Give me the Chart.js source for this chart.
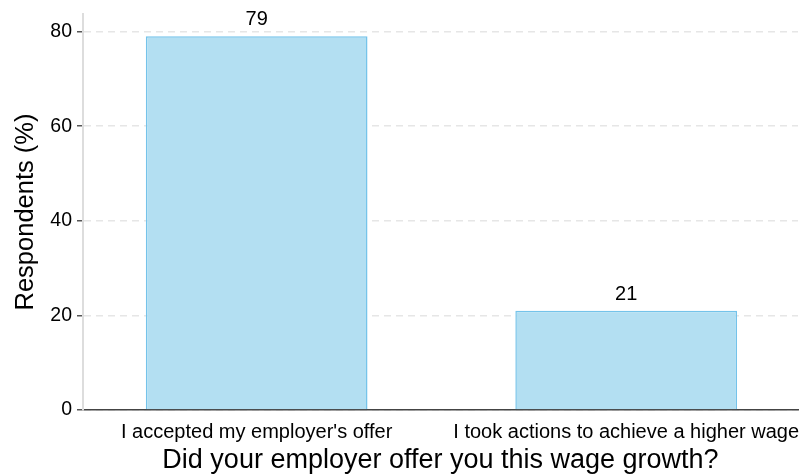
<!DOCTYPE html>
<html>
<head>
<meta charset="utf-8">
<script src="https://cdn.jsdelivr.net/npm/chart.js@4"></script>
<style>
  html, body { margin: 0; padding: 0; background: #ffffff; }
  canvas { display: block; }
</style>
</head>
<body>
<canvas id="c" width="803" height="474"></canvas>
<script>
const categories = ["I accepted my employer's offer", "I took actions to achieve a higher wage"];
const positions = [1, 2];
const values = [79, 21];
const yTicks = [0, 20, 40, 60, 80];
const xTitle = "Did your employer offer you this wage growth?";
const yTitle = "Respondents (%)";

const FONT = "'Liberation Sans', Arial, Helvetica, sans-serif";

const dataLabels = {
  id: 'dataLabels',
  afterDatasetsDraw(chart) {
    const ctx = chart.ctx;
    const meta = chart.getDatasetMeta(0);
    ctx.save();
    ctx.font = "20px " + FONT;
    ctx.fillStyle = '#000';
    ctx.textAlign = 'center';
    ctx.textBaseline = 'alphabetic';
    meta.data.forEach((bar, i) => {
      ctx.fillText(String(values[i]), bar.x, bar.y - 11);
    });
    ctx.restore();
  }
};

new Chart(document.getElementById('c'), {
  type: 'bar',
  data: {
    datasets: [{
      data: positions.map((p, i) => ({ x: p, y: values[i] })),
      backgroundColor: '#b3dff2',
      borderColor: '#74c3ea',
      borderWidth: 1.5,
      categoryPercentage: 1,
      barPercentage: 0.6
    }]
  },
  options: {
    responsive: false,
    animation: false,
    devicePixelRatio: 1,
    layout: { padding: { top: 14, right: 5, left: 0, bottom: 0 } },
    plugins: { legend: { display: false }, tooltip: { enabled: false } },
    scales: {
      x: {
        type: 'linear',
        offset: false,
        min: 0.53,
        max: 2.465,
        afterBuildTicks(scale) { scale.ticks = positions.map(v => ({ value: v })); },
        afterFit(scale) {
          scale.height = 64;
          scale.paddingLeft = 0;
          scale.paddingRight = 0;
        },
        grid: { display: false, drawTicks: false, offset: false },
        border: { display: true, color: '#444', width: 1.5 },
        ticks: {
          autoSkip: false,
          maxRotation: 0,
          padding: 10,
          color: '#000',
          font: { family: FONT, size: 20 },
          callback: (v) => categories[positions.indexOf(v)] ?? ''
        },
        title: {
          display: true,
          text: xTitle,
          color: '#000',
          font: { family: FONT, size: 27 },
          padding: { top: 0, bottom: -3 }
        }
      },
      y: {
        min: 0,
        max: 83.7,
        afterBuildTicks(scale) { scale.ticks = yTicks.map(v => ({ value: v })); },
        afterFit(scale) {
          scale.width = 83;
          scale.paddingTop = 0;
          scale.paddingBottom = 0;
        },
        grid: {
          color: '#e6e6e6',
          lineWidth: 1.5,
          tickColor: '#555',
          tickLength: 6,
          tickWidth: 1.5,
          tickBorderDash: []
        },
        border: { display: true, color: '#dddddd', width: 2, dash: [7, 5] },
        ticks: {
          padding: 5,
          color: '#000',
          font: { family: FONT, size: 19.5 }
        },
        title: {
          display: true,
          text: yTitle,
          color: '#000',
          font: { family: FONT, size: 25.5 },
          padding: { top: 11, bottom: 0 }
        }
      }
    }
  },
  plugins: [dataLabels]
});
</script>
</body>
</html>
